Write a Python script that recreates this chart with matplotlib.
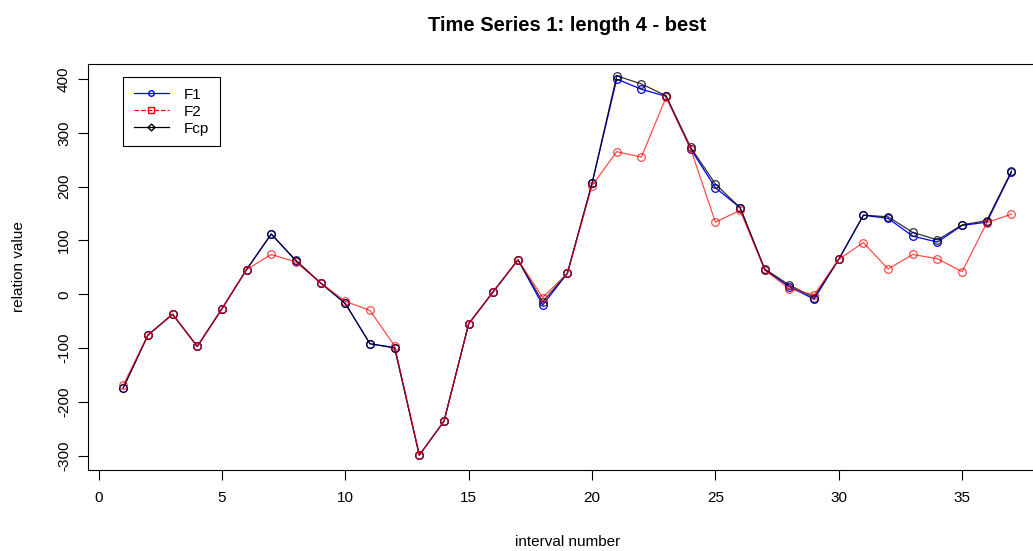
import numpy as np
import matplotlib
matplotlib.use("Agg")
import matplotlib.pyplot as plt

plt.rcParams['font.family'] = ['Liberation Sans', 'DejaVu Sans']
plt.rcParams['axes.unicode_minus'] = False

# interval numbers and the three series
intervals = np.arange(1, 38)

f1 = [-174, -76, -37, -97, -27, 46, 112, 62, 21, -17,
      -92, -99, -299, -236, -55, 5, 64, -20, 39, 206,
      400, 381, 368, 270, 198, 161, 46, 14, -9, 65,
      147, 141, 108, 97, 128, 134, 227]
f2 = [-169, -76, -37, -97, -27, 46, 74, 60, 21, -13,
      -30, -96, -299, -236, -55, 5, 64, -6, 39, 202,
      265, 255, 366, 270, 134, 156, 45, 10, -1, 65,
      96, 47, 74, 66, 42, 133, 149]
fcp = [-174, -76, -37, -97, -27, 46, 112, 63, 21, -17,
       -92, -100, -299, -236, -55, 5, 64, -14, 39, 206,
       406, 391, 369, 273, 205, 161, 47, 17, -6, 65,
       147, 144, 115, 101, 129, 137, 229]

W, H = 1033, 551
fig = plt.figure(figsize=(W / 100, H / 100), dpi=100)

# plot box in pixels (R style, right side cropped in the original)
left, right, top, bottom = 87.7, 1047, 64, 470
ax = fig.add_axes([left / W, (H - bottom) / H, (right - left) / W, (bottom - top) / H])

ax.plot(intervals, f1, color='blue', lw=0.9, marker='o', ms=5.5, mfc='none', mew=0.9)
ax.plot(intervals, fcp, color='black', lw=0.9, marker='o', ms=5.5, mfc='none', mew=0.9, alpha=0.8)
ax.plot(intervals, f2, color='red', lw=0.9, marker='o', ms=5.5, mfc='none', mew=0.9, alpha=0.7)

ax.set_xlim(-0.44, 38.44)
ax.set_ylim(-326.6, 428)
ax.set_xticks(np.arange(0, 40, 5))
ax.set_yticks(np.arange(-300, 500, 100))
ax.tick_params(direction='out', length=7, width=0.8, labelsize=11, colors='black')
ax.tick_params(axis='x', pad=8)
ax.tick_params(axis='y', pad=5)
for lab in ax.get_yticklabels():
    lab.set_rotation(90)
    lab.set_va('center')
for s in ax.spines.values():
    s.set_linewidth(0.8)

ax.set_xlabel("interval number", fontsize=11, labelpad=22)
ax.set_ylabel("relation value", fontsize=11, labelpad=22)
ax.set_title("Time Series 1: length 4 - best", fontsize=14.5, fontweight='bold', pad=24)

# legend proxies (R legend with pch per series)
h1, = ax.plot([], [], color='blue', lw=0.9, marker='o', ms=4, mfc='none')
h2, = ax.plot([], [], color='red', lw=0.9, ls='--', marker='s', ms=4, mfc='none')
h3, = ax.plot([], [], color='black', lw=0.9, marker='D', ms=3.5, mfc='none')
leg = ax.legend([h1, h2, h3], ["F1", "F2", "Fcp"], loc='upper left',
                bbox_to_anchor=(0.0368, 0.968), fontsize=11, fancybox=False,
                edgecolor='black', framealpha=1, borderpad=0.7, labelspacing=0.2,
                handlelength=2.3, handletextpad=1.0, borderaxespad=0)
leg.get_frame().set_linewidth(0.8)

fig.canvas.draw()
# widen the legend frame to match the reference box
leg.get_frame().set_width(95)

fig.savefig("out.png", dpi=100)
